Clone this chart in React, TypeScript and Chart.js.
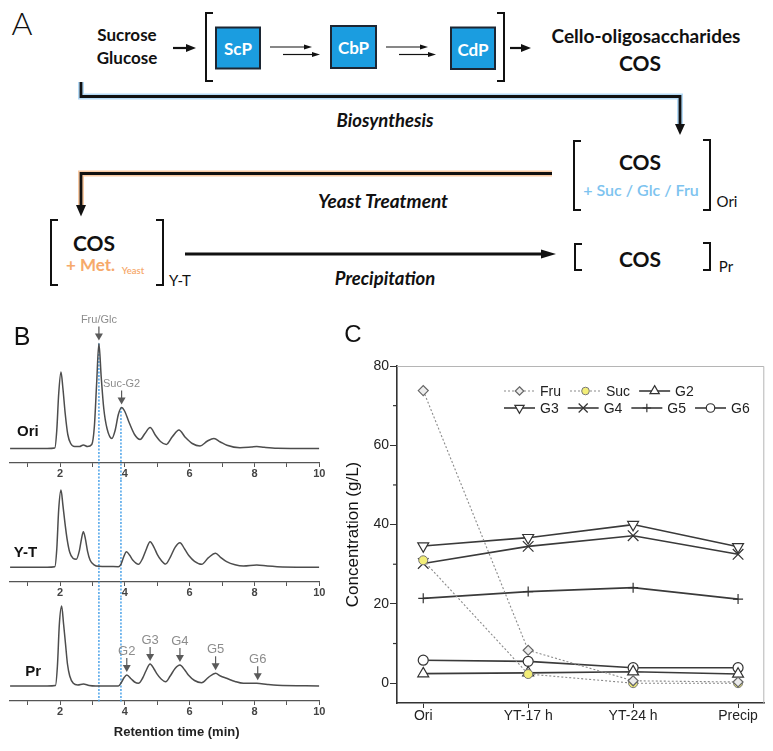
import React, { useEffect, useRef } from 'react';
import { Chart, registerables } from 'chart.js';
Chart.register(...registerables);

const FONT = '"Liberation Sans", Arial, sans-serif';
const AFONT = 'Lato, "Open Sans", sans-serif';

// ---------- Panel B: chromatogram traces [retention time (min), signal] ----------
const oriTrace: [number, number][] = [[0.46,0],[1.6,0],[1.84,0.5],[1.9,18],[1.96,55],[2.03,76.5],[2.09,60],[2.16,35],[2.24,14],[2.33,5],[2.45,2],[2.6,2],[2.72,3.5],[2.85,2],[2.98,4],[3.06,22],[3.13,65],[3.2,105],[3.27,72],[3.35,40],[3.45,20],[3.6,10],[3.7,18],[3.8,34],[3.9,41],[4.0,37],[4.12,27],[4.3,14],[4.47,9],[4.62,15],[4.78,21],[4.95,13],[5.1,7],[5.28,4],[5.47,12],[5.67,18.5],[5.87,11],[6.08,5],[6.32,2.5],[6.55,7.5],[6.75,10],[6.95,6.5],[7.15,3.3],[7.55,0.8],[7.9,1.5],[8.07,2],[8.3,1.2],[8.7,0.3],[10,0]];
const ytTrace: [number, number][] = [[0.46,0],[1.6,0],[1.84,0.5],[1.9,18],[1.96,58],[2.03,77.3],[2.09,62],[2.15,45],[2.22,28],[2.3,15],[2.4,9],[2.5,8],[2.6,17],[2.66,28],[2.72,35.6],[2.78,29],[2.85,16],[2.93,7],[3.05,2.5],[3.2,1],[3.5,0.8],[3.8,0.6],[3.88,3],[3.96,10],[4.05,15.6],[4.15,12],[4.25,7],[4.42,3],[4.55,9],[4.65,17],[4.78,25.6],[4.9,20],[5.0,13],[5.12,7],[5.26,3.3],[5.4,10],[5.55,20],[5.7,24.6],[5.85,18],[5.98,11.5],[6.15,6],[6.37,3],[6.58,9.6],[6.8,14],[6.95,10],[7.14,5.6],[7.4,2.5],[7.66,1.3],[8.07,2.3],[8.4,1.2],[8.7,0.6],[10,0]];
const prTrace: [number, number][] = [[0.46,0],[1.6,0],[1.86,0.5],[1.92,20],[1.98,62],[2.05,80],[2.11,62],[2.17,42],[2.23,22],[2.3,10],[2.41,2.7],[2.55,1],[2.72,2],[2.9,0.5],[3.1,0],[3.8,0],[3.9,4],[3.97,8],[4.06,11],[4.2,7],[4.3,4],[4.42,2.7],[4.55,8],[4.65,15],[4.78,22],[4.9,17],[4.98,12.7],[5.12,7],[5.26,4.3],[5.4,10],[5.55,17.5],[5.7,21],[5.85,16],[5.96,11],[6.15,5.5],[6.37,3.3],[6.58,8.7],[6.8,12.7],[6.95,10],[7.14,7.7],[7.4,4.5],[7.66,2.7],[8.07,2.7],[8.4,1.5],[8.7,0.7],[10,0]];
const timeTicks = [1, 2, 3, 4, 5, 6, 7, 8, 9, 10];
const oriPeakLabels = ['Fru/Glc', 'Suc-G2'];
const oriPeakTimes = [3.2, 3.9];
const oriPeakHeights = [105, 41];
const prPeakLabels = ['G2', 'G3', 'G4', 'G5', 'G6'];
const prPeakTimes = [4.06, 4.78, 5.7, 6.8, 8.1];
const prPeakHeights = [11, 22, 21, 12.7, 2.7];
const refTimes = [3.2, 3.88];

// ---------- Panel C: concentrations (g/L) ----------
const stages = ['Ori', 'YT-17 h', 'YT-24 h', 'Precip'];
const fru = [73.8, 8.3, 0.6, 0.3];
const suc = [31.0, 2.3, 0, 0];
const g2 = [2.4, 2.6, 2.9, 2.3];
const g3 = [34.6, 36.7, 40.0, 34.4];
const g4 = [30.2, 34.5, 37.2, 32.5];
const g5 = [21.4, 23.1, 24.1, 21.2];
const g6 = [5.8, 5.5, 3.9, 3.9];
const concTicks = [0, 20, 40, 60, 80];
const concMinorTicks = [10, 30, 50, 70];

// ---------- helpers ----------
function drawMarker(ctx: CanvasRenderingContext2D, style: string, rot: number, x: number, y: number, r: number, fill: string, stroke: string, lw: number) {
  ctx.save();
  ctx.translate(x, y);
  ctx.rotate((rot * Math.PI) / 180);
  ctx.beginPath();
  ctx.lineWidth = lw;
  ctx.strokeStyle = stroke;
  ctx.fillStyle = fill;
  ctx.setLineDash([]);
  if (style === 'circle') {
    ctx.arc(0, 0, r, 0, Math.PI * 2);
    ctx.fill(); ctx.stroke();
  } else if (style === 'rectRot') {
    ctx.moveTo(0, -r); ctx.lineTo(r, 0); ctx.lineTo(0, r); ctx.lineTo(-r, 0); ctx.closePath();
    ctx.fill(); ctx.stroke();
  } else if (style === 'triangle') {
    for (let k = 0; k < 3; k++) {
      const a = -Math.PI / 2 + (k * 2 * Math.PI) / 3;
      const px = Math.cos(a) * r, py = Math.sin(a) * r;
      if (k === 0) ctx.moveTo(px, py); else ctx.lineTo(px, py);
    }
    ctx.closePath(); ctx.fill(); ctx.stroke();
  } else if (style === 'cross') {
    ctx.moveTo(0, -r); ctx.lineTo(0, r); ctx.moveTo(-r, 0); ctx.lineTo(r, 0); ctx.stroke();
  } else if (style === 'crossRot') {
    const d = r * 0.7071;
    ctx.moveTo(-d, -d); ctx.lineTo(d, d); ctx.moveTo(-d, d); ctx.lineTo(d, -d); ctx.stroke();
  }
  ctx.restore();
}

type Peak = { t: number; h: number; label: string };
type ChromOpts = {
  trace: [number, number][];
  yMin: number; yMax: number; axisHeight: number;
  name: string; nameT: number; nameS: number;
  peaks: Peak[]; peakFont: string;
  vFrom: (number | null)[]; vToAxis: boolean;
  title?: string; titleT?: number; titleY?: number;
};

function chromConfig(o: ChromOpts, width: number): any {
  const decor = {
    id: 'chromDecor',
    beforeDatasetsDraw(chart: any) {
      const { ctx, chartArea, scales } = chart;
      const x = scales.x, y = scales.y;
      ctx.save();
      ctx.strokeStyle = 'rgba(70,160,232,0.9)';
      ctx.lineWidth = 1.6;
      ctx.setLineDash([2, 1.5]);
      refTimes.forEach((t, i) => {
        const px = x.getPixelForValue(t);
        const from = o.vFrom[i];
        const y0 = from == null ? 0 : y.getPixelForValue(from);
        const y1 = o.vToAxis ? chartArea.bottom + 2 : chart.height;
        ctx.beginPath(); ctx.moveTo(px, y0); ctx.lineTo(px, y1); ctx.stroke();
      });
      ctx.restore();
    },
    afterDatasetsDraw(chart: any) {
      const { ctx, scales } = chart;
      const x = scales.x, y = scales.y;
      ctx.save();
      ctx.font = 'bold 15px ' + FONT;
      ctx.fillStyle = '#111';
      ctx.textAlign = 'center';
      ctx.textBaseline = 'middle';
      ctx.fillText(o.name, x.getPixelForValue(o.nameT), y.getPixelForValue(o.nameS));
      o.peaks.forEach((p) => {
        const px = x.getPixelForValue(p.t);
        const tip = y.getPixelForValue(p.h) - 3;
        ctx.strokeStyle = '#5a5a5a';
        ctx.fillStyle = '#5a5a5a';
        ctx.lineWidth = 1.2;
        ctx.beginPath(); ctx.moveTo(px, tip - 14); ctx.lineTo(px, tip - 5); ctx.stroke();
        ctx.beginPath(); ctx.moveTo(px - 4, tip - 7); ctx.lineTo(px + 4, tip - 7); ctx.lineTo(px, tip); ctx.closePath(); ctx.fill();
        ctx.fillStyle = '#8c8c8c';
        ctx.font = o.peakFont;
        ctx.fillText(p.label, px, tip - 21);
      });
      if (o.title) {
        ctx.fillStyle = '#222';
        ctx.font = 'bold 13px ' + FONT;
        ctx.fillText(o.title, x.getPixelForValue(o.titleT), o.titleY);
      }
      ctx.restore();
    },
  };
  return {
    type: 'line',
    data: {
      datasets: [{
        data: o.trace.map(([t, s]) => ({ x: t, y: s })),
        borderColor: '#4d4d4d', borderWidth: 1.5, pointRadius: 0,
        cubicInterpolationMode: 'monotone', fill: false,
      }],
    },
    options: {
      animation: false, responsive: false,
      layout: { padding: { left: 10, right: width - 319.3, top: 0, bottom: 0 } },
      plugins: { legend: { display: false }, tooltip: { enabled: false } },
      scales: {
        x: {
          type: 'linear', min: 0.457, max: 10,
          afterBuildTicks: (s: any) => { s.ticks = timeTicks.map((v) => ({ value: v })); },
          afterFit: (s: any) => { s.height = o.axisHeight; },
          ticks: {
            autoSkip: false, maxRotation: 0, padding: 0, color: '#444',
            font: { size: 11, family: FONT, weight: 'bold' },
            callback: (v: number) => (v % 2 === 0 ? String(v) : ''),
          },
          grid: { drawOnChartArea: false, drawTicks: true, tickLength: 4, color: '#555' },
          border: { display: true, color: '#555', width: 1.2 },
        },
        y: { display: false, min: o.yMin, max: o.yMax },
      },
    },
    plugins: [decor],
  };
}

function concConfig(): any {
  const solid = { borderColor: '#3a3a3a', borderWidth: 1.6, pointBackgroundColor: '#fff', pointBorderColor: '#333', pointBorderWidth: 1.2 };
  const dotted = { borderColor: '#8a8a8a', borderWidth: 1.1, borderDash: [2, 2] };
  const mk = (vals: number[]) => vals.map((v, i) => ({ x: i, y: v }));
  const datasets = [
    { label: 'Fru', data: mk(fru), ...dotted, pointStyle: 'rectRot', pointRadius: 5, pointBackgroundColor: '#ececec', pointBorderColor: '#666', pointBorderWidth: 1.2 },
    { label: 'Suc', data: mk(suc), ...dotted, pointStyle: 'circle', pointRadius: 4.5, pointBackgroundColor: '#f3ee78', pointBorderColor: '#777', pointBorderWidth: 1 },
    { label: 'G2', data: mk(g2), ...solid, pointStyle: 'triangle', pointRadius: 6.3 },
    { label: 'G3', data: mk(g3), ...solid, pointStyle: 'triangle', pointRotation: 180, pointRadius: 6.3 },
    { label: 'G4', data: mk(g4), ...solid, pointStyle: 'crossRot', pointRadius: 7.5 },
    { label: 'G5', data: mk(g5), ...solid, pointStyle: 'cross', pointRadius: 5 },
    { label: 'G6', data: mk(g6), ...solid, pointStyle: 'circle', pointRadius: 5 },
  ];
  const decor = {
    id: 'concDecor',
    beforeDatasetsDraw(chart: any) {
      const { ctx, chartArea: a, scales } = chart;
      ctx.save();
      ctx.strokeStyle = '#b5b5b5';
      ctx.lineWidth = 1;
      ctx.beginPath(); ctx.moveTo(a.left, a.top + 0.5); ctx.lineTo(a.right - 0.5, a.top + 0.5); ctx.lineTo(a.right - 0.5, a.bottom); ctx.stroke();
      ctx.strokeStyle = '#333';
      ctx.lineWidth = 1.2;
      concMinorTicks.forEach((v) => {
        const py = scales.y.getPixelForValue(v);
        ctx.beginPath(); ctx.moveTo(a.left - 4, py); ctx.lineTo(a.left, py); ctx.stroke();
      });
      ctx.restore();
    },
    afterDraw(chart: any) {
      const { ctx, chartArea: a } = chart;
      const rows = [[0, 1, 2], [3, 4, 5, 6]];
      const rowY = [a.top + 25, a.top + 42];
      ctx.save();
      ctx.font = '14px ' + FONT;
      ctx.textBaseline = 'middle';
      ctx.textAlign = 'left';
      rows.forEach((row, ri) => {
        let x = a.left + 107;
        const y = rowY[ri];
        row.forEach((di) => {
          const d: any = chart.data.datasets[di];
          ctx.save();
          ctx.strokeStyle = d.borderColor;
          ctx.lineWidth = d.borderWidth;
          ctx.setLineDash(d.borderDash || []);
          ctx.beginPath(); ctx.moveTo(x, y); ctx.lineTo(x + 31, y); ctx.stroke();
          ctx.restore();
          drawMarker(ctx, d.pointStyle, d.pointRotation || 0, x + 15.5, y, d.pointRadius * 0.85, d.pointBackgroundColor, d.pointBorderColor, d.pointBorderWidth);
          ctx.fillStyle = '#222';
          ctx.fillText(d.label, x + 36, y + 1);
          x += 36 + ctx.measureText(d.label).width + 9;
        });
      });
      ctx.restore();
    },
  };
  return {
    type: 'line',
    data: { datasets },
    options: {
      animation: false, responsive: false,
      layout: { padding: { left: 0, right: 3, top: 26, bottom: 0 } },
      plugins: { legend: { display: false }, tooltip: { enabled: false } },
      scales: {
        x: {
          type: 'linear', min: -0.25, max: 3.25,
          afterBuildTicks: (s: any) => { s.ticks = stages.map((_, i) => ({ value: i })); },
          afterFit: (s: any) => { s.height = 48; },
          ticks: { autoSkip: false, maxRotation: 0, padding: 0, color: '#222', font: { size: 14, family: FONT }, callback: (v: number) => stages[v] ?? '' },
          grid: { drawOnChartArea: false, drawTicks: true, tickLength: 5, color: '#333' },
          border: { display: true, color: '#333', width: 1.6 },
        },
        y: {
          min: -5, max: 80,
          afterBuildTicks: (s: any) => { s.ticks = concTicks.map((v) => ({ value: v })); },
          afterFit: (s: any) => { s.width = 57; },
          ticks: { padding: 1, color: '#222', font: { size: 14, family: FONT } },
          grid: { drawOnChartArea: false, drawTicks: true, tickLength: 7, color: '#333' },
          border: { display: true, color: '#333', width: 1.6 },
          title: { display: true, text: 'Concentration (g/L)', color: '#111', font: { size: 17, family: FONT }, padding: { top: 3, bottom: 0 } },
        },
      },
    },
    plugins: [decor],
  };
}

function ChartCanvas({ left, top, width, height, build }: { left: number; top: number; width: number; height: number; build: () => any }) {
  const ref = useRef<HTMLCanvasElement>(null);
  useEffect(() => {
    const chart = new Chart(ref.current as HTMLCanvasElement, build());
    return () => chart.destroy();
  }, []);
  return <canvas ref={ref} width={width} height={height} style={{ position: 'absolute', left, top, width, height }} />;
}

function T({ x, y, s, w = 700, i = false, c = '#111', f = AFONT, children }: any) {
  return (
    <div style={{ position: 'absolute', left: x, top: y, transform: 'translate(-50%,-50%)', fontSize: s, fontWeight: w, fontStyle: i ? 'italic' : 'normal', color: c, fontFamily: f, whiteSpace: 'nowrap', lineHeight: 1 }}>
      {children}
    </div>
  );
}

function PanelA() {
  const k = '#111';
  const box = '#1b9de0';
  return (
    <>
      <svg width={773} height={300} style={{ position: 'absolute', left: 0, top: 0 }}>
        <path d="M213 13 H206 V81 H213" stroke={k} strokeWidth={2} fill="none" />
        <path d="M497 13 H504 V81 H497" stroke={k} strokeWidth={2} fill="none" />
        <rect x={216} y={27.5} width={44} height={41} fill={box} stroke="#1c2633" strokeWidth={2} />
        <rect x={331} y={26} width={45} height={42} fill={box} stroke="#1c2633" strokeWidth={2} />
        <rect x={451} y={27.5} width={44} height={41.5} fill={box} stroke="#1c2633" strokeWidth={2} />
        <line x1={173} y1={48} x2={188} y2={48} stroke={k} strokeWidth={2.2} />
        <polygon points="186,44 196,48 186,52" fill={k} />
        <line x1={270} y1={47} x2={306} y2={47} stroke={k} strokeWidth={1.2} />
        <polygon points="304,44.5 312,47 304,49.5" fill={k} />
        <line x1={283} y1={54.5} x2={314} y2={54.5} stroke={k} strokeWidth={1.2} />
        <polygon points="312,52 320,54.5 312,57" fill={k} />
        <line x1={386} y1={47} x2={422} y2={47} stroke={k} strokeWidth={1.2} />
        <polygon points="420,44.5 428,47 420,49.5" fill={k} />
        <line x1={399} y1={54.5} x2={430} y2={54.5} stroke={k} strokeWidth={1.2} />
        <polygon points="428,52 436,54.5 428,57" fill={k} />
        <line x1={510} y1={48} x2={523} y2={48} stroke={k} strokeWidth={2.2} />
        <polygon points="521,44 531,48 521,52" fill={k} />
        <polyline points="81,82 81,96.5 680,96.5 680,126" stroke="rgba(120,190,240,0.55)" strokeWidth={6} fill="none" />
        <polyline points="81,82 81,96.5 680,96.5 680,126" stroke={k} strokeWidth={2.8} fill="none" />
        <polygon points="675,124 685,124 680,135" fill={k} />
        <path d="M581 141 H574 V210 H581" stroke={k} strokeWidth={2} fill="none" />
        <path d="M703 140 H710 V210 H703" stroke={k} strokeWidth={2} fill="none" />
        <polyline points="552,173.5 81,173.5 81,207" stroke="rgba(245,160,90,0.55)" strokeWidth={6} fill="none" />
        <polyline points="552,173.5 81,173.5 81,207" stroke={k} strokeWidth={2.8} fill="none" />
        <polygon points="76,205 86,205 81,216.5" fill={k} />
        <path d="M58 220 H51 V285 H58" stroke={k} strokeWidth={2} fill="none" />
        <path d="M156 220 H163 V285 H156" stroke={k} strokeWidth={2} fill="none" />
        <line x1={185} y1={254} x2={545} y2={254} stroke={k} strokeWidth={3} />
        <polygon points="541,249.5 556,254 541,258.5" fill={k} />
        <path d="M582 244 H575 V270 H582" stroke={k} strokeWidth={2} fill="none" />
        <path d="M703 243 H710 V270 H703" stroke={k} strokeWidth={2} fill="none" />
      </svg>
      <T x={22} y={23} s={32} w={300}>A</T>
      <T x={127} y={34} s={17}>Sucrose</T>
      <T x={127} y={57} s={17}>Glucose</T>
      <T x={238} y={48} s={17} c="#fff">ScP</T>
      <T x={353.5} y={47} s={17} c="#fff">CbP</T>
      <T x={473} y={48.5} s={17} c="#fff">CdP</T>
      <T x={646} y={35} s={19}>Cello-oligosaccharides</T>
      <T x={640} y={61.5} s={21}>COS</T>
      <T x={385} y={119.5} s={18.5} i>Biosynthesis</T>
      <T x={640} y={161} s={21}>COS</T>
      <T x={641} y={189.5} s={16} w={600} c="#7dc3ef">+ Suc / Glc / Fru</T>
      <T x={727} y={201} s={15} w={400}>Ori</T>
      <T x={383} y={199.5} s={19} i>Yeast Treatment</T>
      <T x={94} y={241.5} s={21}>COS</T>
      <T x={90.5} y={264} s={17} c="#f6a96b">+ Met.</T>
      <T x={133} y={270.5} s={9.5} w={600} c="#f6a96b">Yeast</T>
      <T x={180} y={280} s={15} w={400}>Y-T</T>
      <T x={385} y={278} s={18.5} i>Precipitation</T>
      <T x={640} y={257.5} s={21}>COS</T>
      <T x={726} y={265.5} s={15} w={400}>Pr</T>
    </>
  );
}

export default function App() {
  const W = 340;
  const ori: ChromOpts = {
    trace: oriTrace, yMin: -14.5, yMax: 148.5, axisHeight: 17,
    name: 'Ori', nameT: 1.01, nameS: 16.8,
    peaks: oriPeakLabels.map((l, i) => ({ label: l, t: oriPeakTimes[i], h: oriPeakHeights[i] })),
    peakFont: '11px ' + FONT,
    vFrom: oriPeakHeights, vToAxis: false,
  };
  const yt: ChromOpts = {
    trace: ytTrace, yMin: -14.7, yMax: 87.3, axisHeight: 16,
    name: 'Y-T', nameT: 0.935, nameS: 14.3,
    peaks: [], peakFont: '11px ' + FONT,
    vFrom: [null, null], vToAxis: false,
  };
  const pr: ChromOpts = {
    trace: prTrace, yMin: -15, yMax: 88, axisHeight: 50,
    name: 'Pr', nameT: 1.17, nameS: 14,
    peaks: prPeakLabels.map((l, i) => ({ label: l, t: prPeakTimes[i], h: prPeakHeights[i] })),
    peakFont: '13px ' + FONT,
    vFrom: [null, null], vToAxis: true,
    title: 'Retention time (min)', titleT: 5.6, titleY: 134,
  };
  return (
    <div style={{ position: 'absolute', left: 0, top: 0, width: 773, height: 751, background: '#fff', overflow: 'hidden' }}>
      <PanelA />
      <ChartCanvas left={0} top={300} width={W} height={180} build={() => chromConfig(ori, W)} />
      <ChartCanvas left={0} top={480} width={W} height={118} build={() => chromConfig(yt, W)} />
      <ChartCanvas left={0} top={598} width={W} height={153} build={() => chromConfig(pr, W)} />
      <ChartCanvas left={340} top={340} width={433} height={411} build={() => concConfig()} />
      <T x={22} y={336} s={25} w={400} f={FONT}>B</T>
      <T x={353} y={334} s={24} w={400} f={FONT}>C</T>
    </div>
  );
}
